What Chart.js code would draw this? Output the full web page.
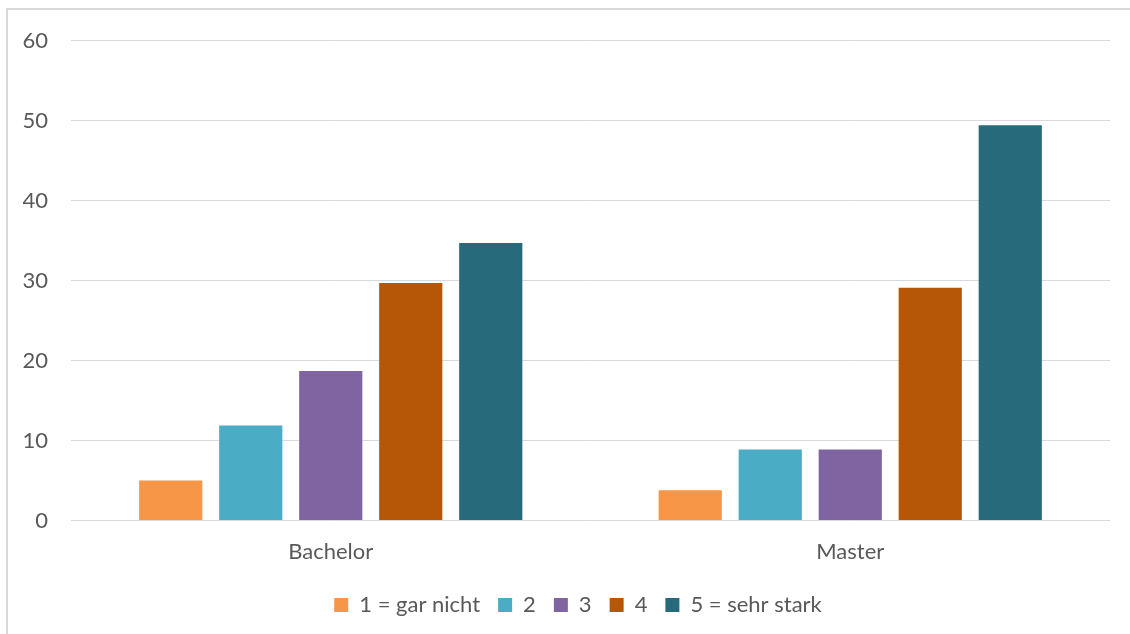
<!DOCTYPE html>
<html>
<head>
<meta charset="utf-8">
<script src="https://cdn.jsdelivr.net/npm/chart.js@4"></script>
<style>
  html, body { margin: 0; padding: 0; background: #ffffff; width: 1130px; height: 634px; overflow: hidden; }
  #frame { position: absolute; left: 6px; top: 8px; width: 1140px; height: 650px; border: 2px solid #d9d9d9; box-sizing: border-box; }
  #wrap { position: absolute; left: 0; top: 0; width: 1130px; height: 634px; }
</style>
</head>
<body>
<div id="frame"></div>
<div id="wrap"><canvas id="c"></canvas></div>
<script>
const categories = ["Bachelor", "Master"];
const seriesNames = ["1 = gar nicht", "2", "3", "4", "5 = sehr stark"];
const s1 = [5.0, 3.8];
const s2 = [11.9, 8.9];
const s3 = [18.7, 8.9];
const s4 = [29.7, 29.1];
const s5 = [34.7, 49.4];
const colors = ["#F79646", "#4BACC6", "#8064A2", "#B65708", "#276A7C"];
const yTicks = [0, 10, 20, 30, 40, 50, 60];

const seriesValues = [s1, s2, s3, s4, s5];
const FONT = "Lato, 'Open Sans', sans-serif";
const TXT = "#595959";

// shift the legend's centring box to line up with the plot area
const legendOffset = {
  id: "legendOffset",
  afterLayout(chart) {
    const lg = chart.legend;
    if (lg) { lg.left += 46; }
  }
};

new Chart(document.getElementById("c"), {
  type: "bar",
  data: {
    labels: categories,
    datasets: seriesValues.map((v, i) => ({
      label: seriesNames[i],
      data: v,
      backgroundColor: colors[i],
      borderWidth: 0,
      categoryPercentage: 0.77,
      barPercentage: 0.79
    }))
  },
  plugins: [legendOffset],
  options: {
    responsive: true,
    maintainAspectRatio: false,
    animation: false,
    layout: { padding: { top: 40.5, right: 20, left: 0, bottom: 8 } },
    plugins: {
      tooltip: { enabled: false },
      legend: {
        position: "bottom",
        labels: {
          color: TXT,
          font: { family: FONT, size: 22 },
          boxWidth: 14,
          boxHeight: 14,
          padding: 18
        }
      }
    },
    scales: {
      x: {
        grid: { display: false },
        border: { display: false },
        ticks: { color: TXT, font: { family: FONT, size: 22 }, padding: 10.5 }
      },
      y: {
        min: 0,
        max: 60,
        afterBuildTicks: (s) => { s.ticks = yTicks.map(v => ({ value: v })); },
        afterFit: (s) => { s.width = 71; },
        grid: { color: "#d9d9d9", lineWidth: 1, drawTicks: false },
        border: { display: false },
        ticks: { color: TXT, font: { family: FONT, size: 22 }, padding: 23 }
      }
    }
  }
});
</script>
</body>
</html>
